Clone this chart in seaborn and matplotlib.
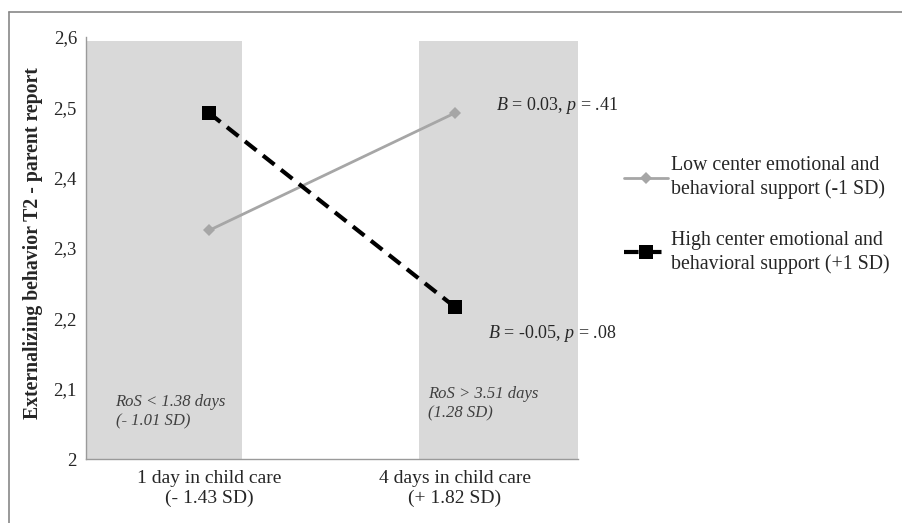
import matplotlib
matplotlib.use("Agg")
import matplotlib.pyplot as plt
import seaborn as sns
import pandas as pd
from matplotlib.lines import Line2D

# Data
categories = ["1 day in child care\n(- 1.43 SD)", "4 days in child care\n(+ 1.82 SD)"]
low_support = [2.325, 2.492]
high_support = [2.492, 2.216]
series_names = ["Low center emotional and\nbehavioral support (-1 SD)",
                "High center emotional and\nbehavioral support (+1 SD)"]
y_ticks = [2.0, 2.1, 2.2, 2.3, 2.4, 2.5, 2.6]
y_tick_labels = ["2", "2,1", "2,2", "2,3", "2,4", "2,5", "2,6"]
slope_labels = ["$B$ = 0.03, $p$ = .41", "$B$ = -0.05, $p$ = .08"]
ros_labels = ["RoS < 1.38 days\n(- 1.01 SD)", "RoS > 3.51 days\n(1.28 SD)"]
# regions of significance, in category-axis units
ros_regions = [(-0.5, 0.134), (0.854, 1.5)]

df = pd.DataFrame({
    "x": [0, 1, 0, 1],
    "y": low_support + high_support,
    "group": [series_names[0]] * 2 + [series_names[1]] * 2,
})

sns.set_style("white")
plt.rcParams["font.family"] = ["Liberation Serif", "DejaVu Serif"]
plt.rcParams["mathtext.fontset"] = "custom"
plt.rcParams["mathtext.rm"] = "Liberation Serif"
plt.rcParams["mathtext.it"] = "Liberation Serif:italic"

fig = plt.figure(figsize=(9.03, 5.23), dpi=100)
ax = fig.add_axes([86 / 903, 1 - 459 / 523, 492 / 903, 422 / 523])

for x0, x1 in ros_regions:
    ax.axvspan(x0, x1, ymin=0, ymax=(2.595 - 2.0) / 0.6, color="#d9d9d9", lw=0, zorder=0)

sns.lineplot(data=df[df.group == series_names[0]], x="x", y="y", ax=ax,
             color="#a6a6a6", lw=2, marker="D", markersize=6, markeredgewidth=0,
             label=series_names[0], zorder=3)
sns.lineplot(data=df[df.group == series_names[1]], x="x", y="y", ax=ax,
             color="black", lw=3, marker="s", markersize=10, markeredgewidth=0,
             label=series_names[1], zorder=4)
ax.lines[-1].set_dashes([3.5, 2])

ax.set_xlim(-0.5, 1.5)
ax.set_ylim(2.0, 2.6)
ax.set_xticks([0, 1])
ax.set_xticklabels(categories, fontsize=14)
ax.set_yticks(y_ticks)
ax.set_yticklabels(y_tick_labels, fontsize=13.5)
ax.tick_params(axis="y", length=0, pad=6.5)
ax.tick_params(axis="x", length=0, pad=8)
ax.set_xlabel("")
ax.set_ylabel("Externalizing behavior T2 - parent report", fontsize=14.2,
              fontweight="bold")
ax.yaxis.set_label_coords(-0.088, 0.512)

for side in ["top", "right"]:
    ax.spines[side].set_visible(False)
for side in ["left", "bottom"]:
    ax.spines[side].set_color("#9a9a9a")
    ax.spines[side].set_linewidth(1)

# slope annotations
ax.text(1.165, low_support[1] + 0.01, slope_labels[0], fontsize=13, va="center")
ax.text(1.134, high_support[1] - 0.037, slope_labels[1], fontsize=13, va="center")

# regions of significance labels
ax.text(-0.38, 2.067, ros_labels[0], fontsize=12, style="italic", color="#404040",
        va="center", linespacing=1.3)
ax.text(0.89, 2.079, ros_labels[1], fontsize=12, style="italic", color="#404040",
        va="center", linespacing=1.3)

leg = ax.legend(loc="upper left", bbox_to_anchor=(606 / 903, 1 - 138 / 523),
                bbox_transform=fig.transFigure, frameon=False, fontsize=14.3,
                handlelength=2.2, handletextpad=0.15, labelspacing=1.6)
for t in leg.get_texts():
    t.set_linespacing(1.3)

# outer frame (only top and left edges visible in the crop)
fig.add_artist(Line2D([9 / 903, 9 / 903], [0, 1 - 12 / 523], color="#888888", lw=1.2,
                      transform=fig.transFigure))
fig.add_artist(Line2D([9 / 903, 1], [1 - 12 / 523, 1 - 12 / 523], color="#888888", lw=1.2,
                      transform=fig.transFigure))

fig.savefig("out.png", dpi=100)
